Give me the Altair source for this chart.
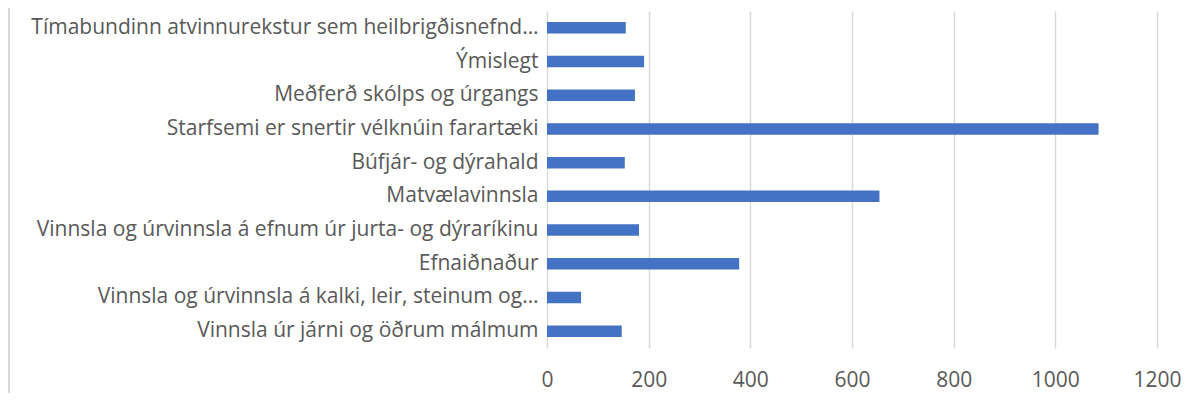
import altair as alt
import pandas as pd

categories = [
    "Tímabundinn atvinnurekstur sem heilbrigðisnefnd…",
    "Ýmislegt",
    "Meðferð skólps og úrgangs",
    "Starfsemi er snertir vélknúin farartæki",
    "Búfjár- og dýrahald",
    "Matvælavinnsla",
    "Vinnsla og úrvinnsla á efnum úr jurta- og dýraríkinu",
    "Efnaiðnaður",
    "Vinnsla og úrvinnsla á kalki, leir, steinum og…",
    "Vinnsla úr járni og öðrum málmum",
]
values = [155, 191, 173, 1085, 153, 654, 181, 378, 67, 147]
x_ticks = [0, 200, 400, 600, 800, 1000, 1200]

df = pd.DataFrame({"category": categories, "value": values})

bars = alt.Chart(df).mark_bar(color="#4472C4", size=11.5).encode(
    y=alt.Y(
        "category:N",
        sort=categories,
        title=None,
        axis=alt.Axis(
            domain=False, ticks=False, labelLimit=0, labelPadding=9,
            labelFontSize=21, labelColor="#595959", labelFont="Open Sans",
        ),
    ),
    x=alt.X(
        "value:Q",
        title=None,
        scale=alt.Scale(domain=[0, 1200], nice=False),
        axis=alt.Axis(
            values=x_ticks, format="d", domain=False, ticks=False, labelPadding=21,
            labelFlush=False, labelOverlap=False,
            labelFontSize=21, labelColor="#595959", labelFont="Open Sans",
            grid=True, gridColor="#d9d9d9", gridWidth=1.5,
        ),
    ),
)

border = alt.Chart(pd.DataFrame({"a": [0]})).mark_rule(color="#d9d9d9", strokeWidth=2).encode(
    x=alt.value(-538), y=alt.value(-20), y2=alt.value(400)
)

chart = alt.layer(bars, border).properties(
    width=610,
    height=337,
    autosize=alt.AutoSizeParams(type="none"),
    padding={"left": 539, "top": 3, "right": 38, "bottom": 45},
).configure_view(stroke=None).configure_scale(bandPaddingInner=0.66, bandPaddingOuter=0.33)

chart.save("out.html", embed_options={"renderer": "svg", "actions": False})
